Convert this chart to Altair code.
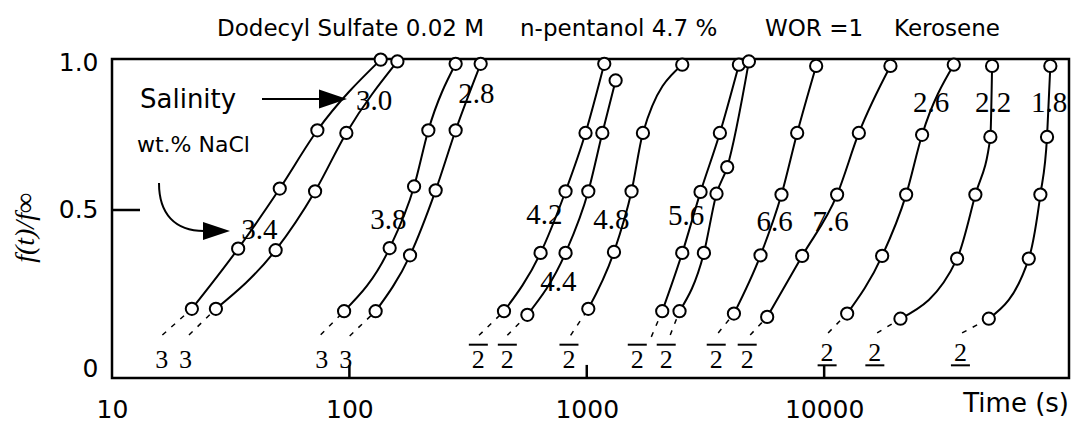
import altair as alt
import pandas as pd

# ---------------- data ----------------
CURVE_TIMES = [
    [21.7, 34.0, 50.9, 73.3, 135.5],
    [27.4, 48.9, 71.7, 97.1, 159.3],
    [95.0, 147.8, 187.3, 215.1, 280.3],
    [129.0, 180.1, 230.9, 280.3, 357.3],
    [448, 639, 814, 988, 1185],
    [562, 814, 1015, 1163, 1323],
    [1015, 1302, 1544, 1724, 2525],
    [2079, 2525, 3015, 3637, 4374],
    [2459, 3115, 3520, 3905, 4819],
    [4168, 5394, 6611, 7697, 9254],
    [5754, 8079, 11340, 14000, 19020],
    [12500, 17550, 22150, 25860, 35160],
    [20960, 36310, 43350, 50140, 50980],
    [49380, 72770, 81440, 86880, 89700],
]
CURVE_FRACS = [
    [0.173, 0.372, 0.571, 0.764, 0.998],
    [0.173, 0.367, 0.562, 0.755, 0.992],
    [0.165, 0.374, 0.578, 0.764, 0.984],
    [0.165, 0.350, 0.565, 0.764, 0.984],
    [0.165, 0.358, 0.562, 0.755, 0.984],
    [0.153, 0.358, 0.562, 0.755, 0.929],
    [0.173, 0.361, 0.562, 0.755, 0.981],
    [0.165, 0.358, 0.560, 0.755, 0.981],
    [0.165, 0.358, 0.554, 0.642, 0.992],
    [0.157, 0.350, 0.551, 0.755, 0.977],
    [0.146, 0.348, 0.551, 0.755, 0.977],
    [0.157, 0.348, 0.551, 0.749, 0.981],
    [0.140, 0.339, 0.551, 0.742, 0.977],
    [0.140, 0.339, 0.551, 0.742, 0.977],
]
# dashed extrapolation end points (one per curve)
DASH_END_TIMES = [16.3, 21.1, 75.7, 100.3, 351.6, 462.7, 855, 1870, 2247, 3578, 4880, 10390, 16720, 38110]
DASH_END_FRACS = [0.086, 0.086, 0.087, 0.083, 0.085, 0.085, 0.085, 0.080, 0.086, 0.093, 0.086, 0.093, 0.093, 0.093]

# salinity labels (wt.% NaCl)
SAL_LABELS = ["3.4", "3.0", "3.8", "2.8", "4.2", "4.4", "4.8", "5.6", "6.6", "7.6", "2.6", "2.2", "1.8"]
SAL_TIMES = [41.8, 127.1, 146.0, 342.5, 662.3, 758.6, 1268.5, 2624, 6190, 10650, 28220, 51470, 88600]
SAL_FRACS = [0.434, 0.861, 0.467, 0.884, 0.483, 0.262, 0.467, 0.480, 0.460, 0.460, 0.854, 0.854, 0.854]

# exponent-like labels near the bottom
EXP_LABELS = ["3", "3", "3", "3", "2", "2", "2", "2", "2", "2", "2", "2", "2", "2"]
EXP_TIMES = [16.2, 20.4, 76.4, 96.5, 349.3, 462.7, 841.4, 1632, 2161, 3510, 4740, 10290, 16350, 37500]
EXP_BAR = ["none", "none", "none", "none", "over", "over", "over", "over", "over", "over", "over",
           "under", "under", "under"]

X_TICKS = [10, 100, 1000, 10000]
Y_LABEL_VALUES = [0.99, 0.5, -0.025]

TITLE_PARTS = ["Dodecyl Sulfate 0.02 M", "n-pentanol 4.7 %", "WOR =1", "Kerosene"]

# ---------------- tables ----------------
rows = []
for i, (ts, fs) in enumerate(zip(CURVE_TIMES, CURVE_FRACS)):
    for t, f in zip(ts, fs):
        rows.append({"curve": i, "t": t, "f": f})
pts = pd.DataFrame(rows)

drows = []
for i in range(len(CURVE_TIMES)):
    drows.append({"curve": i, "t": CURVE_TIMES[i][0], "f": CURVE_FRACS[i][0]})
    drows.append({"curve": i, "t": DASH_END_TIMES[i], "f": DASH_END_FRACS[i]})
dashes = pd.DataFrame(drows)

sal = pd.DataFrame({"label": SAL_LABELS, "t": SAL_TIMES, "f": SAL_FRACS})

exp_f = {"none": 0.003, "over": 0.003, "under": 0.028}
bar_f = {"over": 0.054, "under": -0.0143}
exps = pd.DataFrame({
    "label": EXP_LABELS,
    "t": EXP_TIMES,
    "f": [exp_f[b] for b in EXP_BAR],
})
bars = pd.DataFrame({
    "t": [t for t, b in zip(EXP_TIMES, EXP_BAR) if b != "none"],
    "f": [bar_f[b] for b in EXP_BAR if b != "none"],
})

YMIN = -0.0563
xticks_df = pd.DataFrame({"t": X_TICKS[1:], "f": [YMIN] * 3, "f2": [-0.013] * 3})
ytick_df = pd.DataFrame({"t": [10], "t2": [13.12], "f": [0.5]})

# ---------------- encodings ----------------
xscale = alt.Scale(type="log", domain=[10, 107500], nice=False)
yscale = alt.Scale(domain=[YMIN, 1.0], nice=False, zero=False)

x_axis = alt.Axis(values=X_TICKS, format="d", labelFont="DejaVu Sans", labelFontSize=25,
                  labelColor="black", ticks=False, tickSize=0, domain=False, grid=False,
                  labelPadding=39, labelBaseline="alphabetic", labelFlush=False,
                  labelOverlap=False, title=None)
y_axis = alt.Axis(values=Y_LABEL_VALUES,
                  labelExpr="datum.value < 0 ? '0' : (datum.value > 0.9 ? '1.0' : '0.5')",
                  labelFont="DejaVu Sans", labelFontSize=25, labelColor="black",
                  ticks=False, tickSize=0, domain=False, grid=False, labelPadding=14,
                  labelBaseline="middle", labelOverlap=False, labelFlush=False, title=None)

X = alt.X("t:Q", scale=xscale, axis=x_axis)
Y = alt.Y("f:Q", scale=yscale, axis=y_axis)

lines = alt.Chart(pts).mark_line(color="black", strokeWidth=2, interpolate="monotone").encode(
    x=X, y=Y, detail="curve:N")

dash_lines = alt.Chart(dashes).mark_line(color="black", strokeWidth=1.5, strokeDash=[5, 7]).encode(
    x="t:Q", y="f:Q", detail="curve:N")

xticks = alt.Chart(xticks_df).mark_rule(color="black", strokeWidth=2.5).encode(
    x="t:Q", y="f:Q", y2="f2:Q")
ytick = alt.Chart(ytick_df).mark_rule(color="black", strokeWidth=2.5).encode(
    x="t:Q", x2="t2:Q", y="f:Q")

circles = alt.Chart(pts).mark_point(shape="circle", filled=True, fill="white", stroke="black",
                                    strokeWidth=2, size=150, opacity=1).encode(x="t:Q", y="f:Q")

sal_text = alt.Chart(sal).mark_text(font="Liberation Serif", fontSize=29, color="black",
                                    align="center", baseline="middle").encode(
    x="t:Q", y="f:Q", text="label:N")

exp_text = alt.Chart(exps).mark_text(font="Liberation Serif", fontSize=26, color="black",
                                     align="center", baseline="middle").encode(
    x="t:Q", y="f:Q", text="label:N")

bar_marks = alt.Chart(bars).mark_point(shape="M-9.5,0L9.5,0", size=4, filled=False,
                                       color="black", strokeWidth=2, opacity=1).encode(
    x="t:Q", y="f:Q")

one = pd.DataFrame({"k": [0]})


def label(txt, px, py, size, font="DejaVu Sans", align="left", baseline="alphabetic",
          angle=0, style="normal"):
    return alt.Chart(one).mark_text(text=txt, font=font, fontSize=size, color="black",
                                    align=align, baseline=baseline, angle=angle,
                                    fontStyle=style).encode(
        x=alt.value(px), y=alt.value(py))


def shape(path, px, py, filled, sw=2):
    return alt.Chart(one).mark_point(shape=path, size=4, filled=filled, color="black",
                                     strokeWidth=sw, opacity=1).encode(
        x=alt.value(px), y=alt.value(py))


title_pos = [105, 408, 653, 782]
annots = [label(t, p, -23, 23) for t, p in zip(TITLE_PARTS, title_pos)]
annots += [
    label("Salinity", 28, 49, 26),
    label("wt.% NaCl", 25, 93, 22),
    label("Time (s)", 957, 353, 26, align="right"),
    label("f(t)/f\u221e", -86, 169, 28, font="Liberation Serif", align="center",
          baseline="middle", angle=270, style="italic"),
    shape("M0,0L60,0", 150, 40, False),
    shape("M-28,-9.5L0,0L-28,9.5Z", 235, 40, True, 1),
    shape("M0,0C0,31 16,48 45,48", 47, 124, False),
    shape("M-27,-9L0,0L-27,9Z", 118, 172, True, 1),
]

chart = alt.layer(lines, dash_lines, xticks, ytick, circles, sal_text, exp_text, bar_marks,
                  *annots).properties(
    width=957, height=319,
    padding={"left": 112, "top": 59, "right": 3, "bottom": 46},
    autosize=alt.AutoSizeParams(type="none"),
    background="white",
).configure_view(stroke="black", strokeWidth=2.5)

chart.save("out.html", embed_options={"renderer": "svg", "actions": False})
